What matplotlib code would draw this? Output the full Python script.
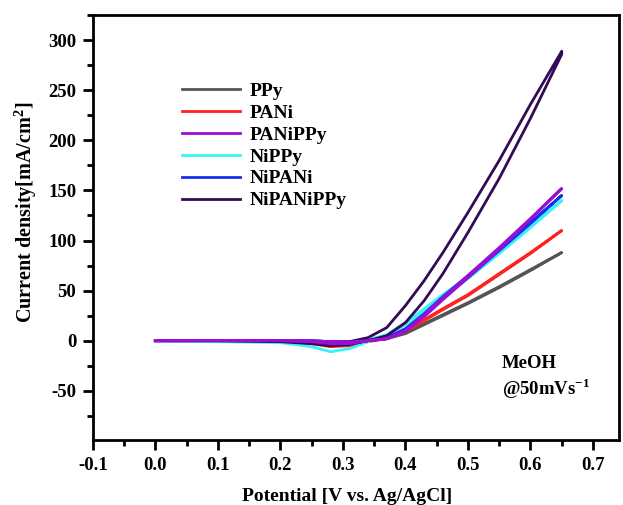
import numpy as np
import matplotlib.pyplot as plt
from matplotlib.ticker import MultipleLocator

plt.rcParams['font.family'] = ['Liberation Serif', 'DejaVu Serif']
plt.rcParams['font.weight'] = 'bold'
plt.rcParams['axes.unicode_minus'] = False
plt.rcParams['mathtext.fontset'] = 'custom'
plt.rcParams['mathtext.rm'] = 'Liberation Serif:bold'
plt.rcParams['mathtext.bf'] = 'Liberation Serif:bold'

# potential grid (V vs Ag/AgCl), shared by forward and backward scans
potential = [0.00, 0.10, 0.20, 0.25, 0.28, 0.31, 0.34, 0.37, 0.40, 0.43, 0.46, 0.50, 0.55, 0.60, 0.65]

# current density (mA/cm2), forward / backward scans
ppy_fwd = [0, 0, 0, 0, -1, -1, 0, 2, 8, 17, 26, 38, 54, 71, 88]
ppy_bwd = [0, 0, 0, -1, -3, -3, 0, 2, 7, 16, 25, 37, 53, 70, 88]
pani_fwd = [0, 0, 0, -1, -2, -2, 0, 2, 10, 21, 32, 46, 67, 88, 110]
pani_bwd = [0, 0, -1, -3, -6, -5, -1, 2, 9, 20, 31, 45, 66, 87, 110]
panippy_fwd = [0, 0, 0, 0, -1, -1, 0, 2, 10, 26, 43, 65, 93, 122, 152]
panippy_bwd = [0, 0, 0, -1, -3, -3, 0, 2, 9, 24, 41, 63, 91, 121, 152]
nippy_fwd = [0, 0, -1, -2, -3, -2, 1, 6, 18, 32, 46, 64, 89, 114, 140]
nippy_bwd = [0, -1, -2, -6, -11, -8, -1, 5, 16, 30, 44, 62, 87, 113, 140]
nipani_fwd = [0, 0, 0, 0, -1, -1, 0, 3, 12, 27, 44, 65, 92, 118, 145]
nipani_bwd = [0, 0, 0, -2, -4, -3, 0, 2, 10, 25, 42, 63, 90, 117, 145]
nipanippy_fwd = [0, 0, 0, -1, -2, -1, 3, 13, 35, 60, 88, 128, 180, 236, 289]
nipanippy_bwd = [0, 0, -1, -3, -5, -4, 0, 5, 18, 40, 67, 108, 162, 222, 286]

labels = ['PPy', 'PANi', 'PANiPPy', 'NiPPy', 'NiPANi', 'NiPANiPPy']
colors = ['#555555', '#ff2222', '#9a0fd6', '#33f5f5', '#1a2cf0', '#330a55']
series = [(ppy_fwd, ppy_bwd), (pani_fwd, pani_bwd), (panippy_fwd, panippy_bwd),
          (nippy_fwd, nippy_bwd), (nipani_fwd, nipani_bwd), (nipanippy_fwd, nipanippy_bwd)]
draw_order = [0, 1, 3, 4, 5, 2]

fig = plt.figure(figsize=(6.23, 5.05), dpi=100)
ax = fig.add_axes([0.149, 0.129, 0.845, 0.841])

E = np.array(potential)
handles = [None] * len(labels)
for i in draw_order:
    fwd, bwd = series[i]
    x = np.concatenate([E, E[::-1]])
    y = np.concatenate([fwd, bwd[::-1]])
    h, = ax.plot(x, y, color=colors[i], lw=2, label=labels[i])
    handles[i] = h

ax.set_xlim(-0.1, 0.742)
ax.set_ylim(-99, 325)
ax.xaxis.set_major_locator(MultipleLocator(0.1))
ax.xaxis.set_minor_locator(MultipleLocator(0.05))
ax.yaxis.set_major_locator(MultipleLocator(50))
ax.yaxis.set_minor_locator(MultipleLocator(25))
ax.set_yticks([-50, 0, 50, 100, 150, 200, 250, 300])
ax.tick_params(which='major', direction='out', length=7, width=2, labelsize=13.5, pad=5)
ax.tick_params(which='minor', direction='out', length=4, width=2)
for s in ax.spines.values():
    s.set_linewidth(2)
ax.set_xticklabels([f'{v:.1f}' for v in ax.get_xticks()])

ax.set_xlabel('Potential [V vs. Ag/AgCl]', fontsize=14, fontweight='bold')
ax.set_ylabel('Current density[mA/cm$^2$]', fontsize=14.5, fontweight='bold')
ax.xaxis.set_label_coords(0.483, -0.113)
ax.yaxis.set_label_coords(-0.102, 0.535)

ax.legend(handles=handles, loc='upper left', bbox_to_anchor=(0.169, 0.842),
          frameon=False, borderpad=0, borderaxespad=0, handlelength=3.0,
          handletextpad=0.5, labelspacing=0.22, prop={'size': 14, 'weight': 'bold'})

ax.text(0.777, 0.170, 'MeOH', transform=ax.transAxes, fontsize=13.5, fontweight='bold')
ax.text(0.777, 0.106, '@50mVs$^{-1}$', transform=ax.transAxes, fontsize=13.5, fontweight='bold')

fig.savefig('out.png', dpi=100)
